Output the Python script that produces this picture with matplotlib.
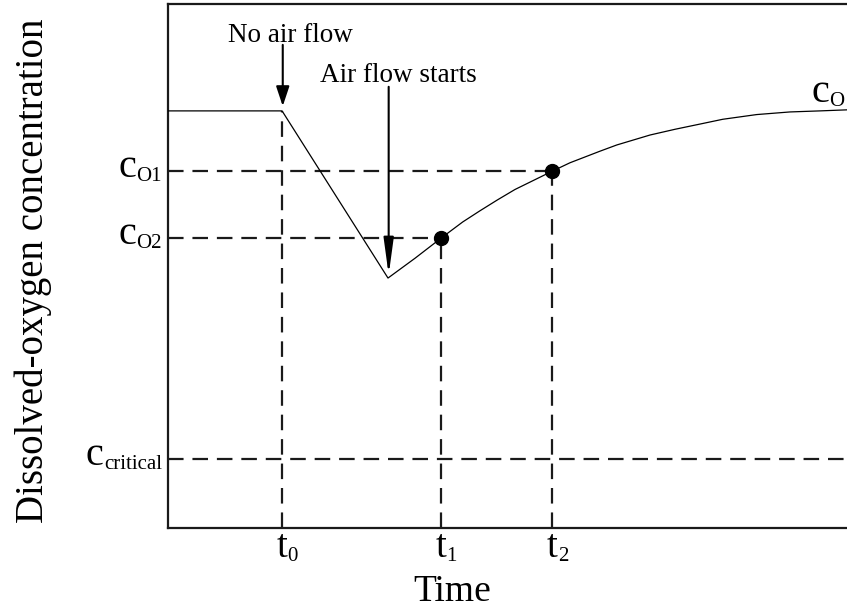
import matplotlib
matplotlib.use("Agg")
import matplotlib.pyplot as plt

# ---- data (arbitrary units) ----
level_initial = 7.96
t_labels = ["0", "1", "2"]
t_values = [1.68, 4.02, 5.66]          # t0, t1, t2
t_min = 3.24                           # air flow starts (minimum)
y_min = 4.77
c_names = ["O1", "O2", "critical"]
c_values = [6.81, 5.53, 1.32]          # cO1, cO2, ccritical
curve_x = [3.24, 3.64, 4.02, 4.34, 4.59, 4.85, 5.11, 5.33, 5.66, 5.92, 6.36, 6.61,
           7.10, 7.47, 7.84, 8.17, 8.67, 9.16, 9.60, 10.0]
curve_y = [4.77, 5.15, 5.53, 5.84, 6.05, 6.26, 6.46, 6.60, 6.81, 6.97, 7.19, 7.31,
           7.50, 7.61, 7.71, 7.80, 7.89, 7.94, 7.96, 7.98]
dot_x = [4.02, 5.66]
dot_y = [5.53, 6.81]

plt.rcParams['font.family'] = ['Liberation Serif', 'DejaVu Serif']

W, H = 847, 613
fig = plt.figure(figsize=(W / 100, H / 100), dpi=100)
ax = fig.add_axes([168 / W, (H - 528) / H, (W - 168) / W, (528 - 4) / H])
ax.set_xlim(0, 10)
ax.set_ylim(0, 10)
for s in ['left', 'bottom', 'top']:
    ax.spines[s].set_linewidth(1.6)
    ax.spines[s].set_color('#1a1a1a')
ax.spines['right'].set_visible(False)
ax.set_xticks([])
ax.set_yticks([])

# profile line
px = [0, t_values[0], t_min] + curve_x[1:]
py = [level_initial, level_initial, y_min] + curve_y[1:]
ax.plot(px, py, color='black', lw=0.9, zorder=3, solid_joinstyle='round')

# dashed guides
dash = dict(color='#1a1a1a', lw=1.6, dashes=(7, 4), zorder=2)
ax.plot([t_values[0], t_values[0]], [0, level_initial], **dash)
ax.plot([t_values[1], t_values[1]], [0, dot_y[0]], **dash)
ax.plot([t_values[2], t_values[2]], [0, dot_y[1]], **dash)
ax.plot([0, dot_x[1]], [c_values[0], c_values[0]], **dash)
ax.plot([0, dot_x[0]], [c_values[1], c_values[1]], **dash)
ax.plot([0, 10], [c_values[2], c_values[2]], **dash)

ax.plot(dot_x, dot_y, 'o', color='black', ms=10, zorder=4)

# arrows and annotations
ax.annotate('', xy=(t_values[0] + 0.01, 8.05), xytext=(t_values[0] + 0.01, 9.22),
            arrowprops=dict(arrowstyle='-|>,head_length=0.6,head_width=0.2',
                            lw=1.5, color='black', shrinkA=0, shrinkB=0, mutation_scale=20))
ax.annotate('', xy=(t_min + 0.01, 4.83), xytext=(t_min + 0.01, 8.42),
            arrowprops=dict(arrowstyle='-|>,head_length=1.1,head_width=0.15',
                            lw=1.5, color='black', shrinkA=0, shrinkB=0, mutation_scale=20))
ax.text(1.80, 9.27, 'No air flow', ha='center', va='baseline', fontsize=19.5)
ax.text(3.39, 8.51, 'Air flow starts', ha='center', va='baseline', fontsize=19.5)

# x tick labels t0, t1, t2
for tx, sub in zip(t_values, t_labels):
    mt = ax.annotate('t', xy=(tx, 0), xycoords=ax.get_xaxis_transform(),
                     xytext=(0, -29 * 0.72), textcoords='offset points',
                     ha='center', va='baseline', fontsize=28)
    ax.annotate(sub, xy=(1, 0), xycoords=mt, ha='left', va='bottom', fontsize=15)

# y tick labels c_O1, c_O2, c_critical
for cy, sub in zip(c_values, c_names):
    st = ax.annotate(sub, xy=(0, cy), xycoords=ax.get_yaxis_transform(),
                     xytext=(-4.5, -10 * 0.72), textcoords='offset points',
                     ha='right', va='baseline', fontsize=15)
    ax.annotate('c', xy=(0, 0), xycoords=st, ha='right', va='bottom', fontsize=29)

# right-hand label (cut off at figure edge)
mc = ax.text(9.48, 8.13, 'c', ha='left', va='baseline', fontsize=29)
ax.annotate('O', xy=(1, 0), xycoords=mc, ha='left', va='bottom', fontsize=15,
            annotation_clip=False)

fig.text(452 / W, 1 - 592 / H, 'Time', ha='center', va='center', fontsize=27)
fig.text(33 / W, 1 - 271 / H, 'Dissolved-oxygen concentration', ha='center', va='center',
         rotation=90, fontsize=28)

fig.savefig('out.png', dpi=100)
